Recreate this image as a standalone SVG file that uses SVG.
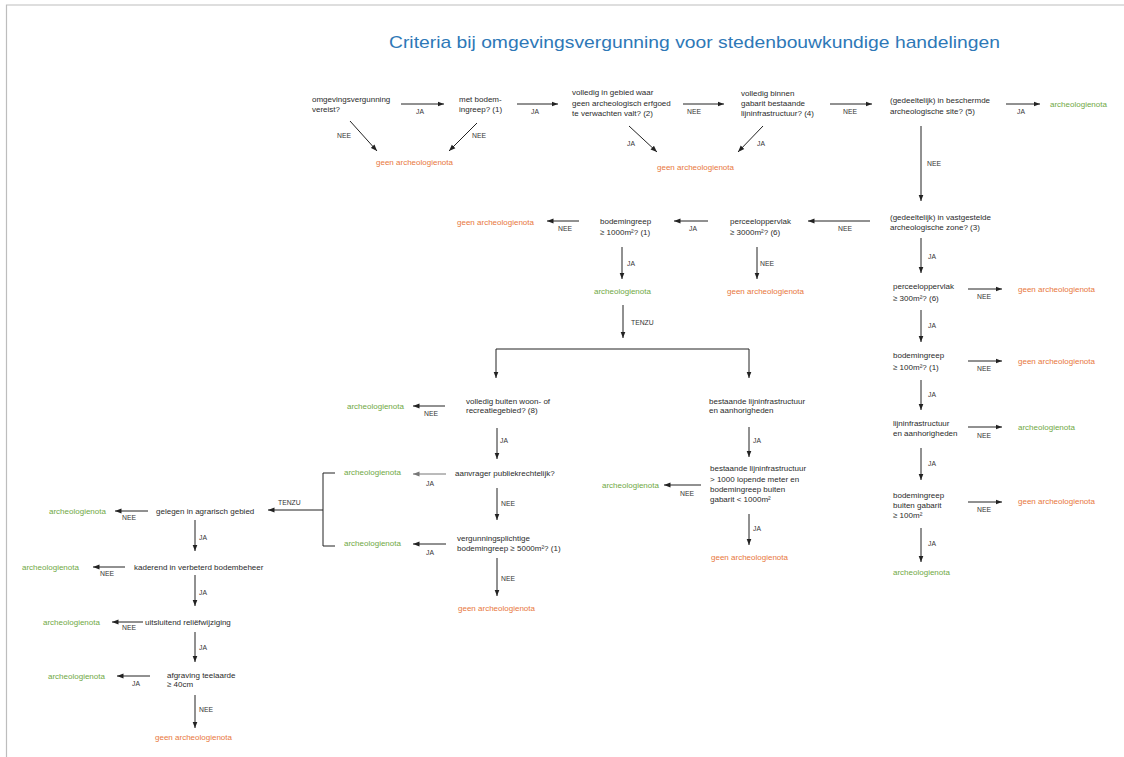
<svg xmlns="http://www.w3.org/2000/svg" width="1124" height="757" viewBox="0 0 1124 757">
<defs>
<marker id="ah" markerWidth="7" markerHeight="6" refX="6.5" refY="3" orient="auto" markerUnits="userSpaceOnUse"><path d="M0,0.5 L6.5,3 L0,5.5 z" fill="#222"/></marker>
<marker id="ahg" markerWidth="7" markerHeight="6" refX="6.5" refY="3" orient="auto" markerUnits="userSpaceOnUse"><path d="M0,0.5 L6.5,3 L0,5.5 z" fill="#777"/></marker>
</defs>
<style>
text{font-family:"Liberation Sans",Arial,sans-serif;}
.t{font-size:8px;fill:#2b2b2b;}
.l{font-size:6.8px;fill:#333;}
.g{font-size:8px;fill:#e8773c;}
.a{font-size:8px;fill:#6fa844;}
.title{font-size:17px;fill:#2e78b7;}
.c{stroke:#222;stroke-width:1;fill:none;}
.cg{stroke:#777;stroke-width:1;fill:none;}
.f{stroke:#bdbdbd;stroke-width:1.2;fill:none;}
</style>
<rect width="1124" height="757" fill="#fff"/>
<path class="f" d="M6.5,757 V5 H1124"/>
<text class="title" x="389" y="48" textLength="611" lengthAdjust="spacingAndGlyphs">Criteria bij omgevingsvergunning voor stedenbouwkundige handelingen</text>

<g id="connectors">
<line class="c" x1="401" y1="104" x2="444" y2="104" marker-end="url(#ah)"/>
<line class="c" x1="517" y1="104" x2="558" y2="104" marker-end="url(#ah)"/>
<line class="c" x1="683" y1="104" x2="724" y2="104" marker-end="url(#ah)"/>
<line class="c" x1="830" y1="104" x2="872" y2="104" marker-end="url(#ah)"/>
<line class="c" x1="1006" y1="104" x2="1040" y2="104" marker-end="url(#ah)"/>
<line class="c" x1="350" y1="121" x2="377" y2="151" marker-end="url(#ah)"/>
<line class="c" x1="477" y1="123" x2="449" y2="151" marker-end="url(#ah)"/>
<line class="c" x1="629" y1="126" x2="657" y2="152" marker-end="url(#ah)"/>
<line class="c" x1="763" y1="126" x2="738" y2="152" marker-end="url(#ah)"/>
<line class="c" x1="921" y1="126" x2="921" y2="201" marker-end="url(#ah)"/>
<line class="c" x1="870" y1="221" x2="808" y2="221" marker-end="url(#ah)"/>
<line class="c" x1="708" y1="221" x2="674" y2="221" marker-end="url(#ah)"/>
<line class="c" x1="579" y1="221" x2="547" y2="221" marker-end="url(#ah)"/>
<line class="c" x1="622" y1="247" x2="622" y2="279" marker-end="url(#ah)"/>
<line class="c" x1="757" y1="247" x2="757" y2="279" marker-end="url(#ah)"/>
<line class="c" x1="623" y1="305" x2="623" y2="338" marker-end="url(#ah)"/>
<path class="c" d="M496,349 H749"/>
<line class="c" x1="496" y1="349" x2="496" y2="378" marker-end="url(#ah)"/>
<line class="c" x1="749" y1="349" x2="749" y2="378" marker-end="url(#ah)"/>
<line class="c" x1="445" y1="406" x2="413" y2="406" marker-end="url(#ah)"/>
<line class="c" x1="497" y1="428" x2="497" y2="459" marker-end="url(#ah)"/>
<line class="cg" x1="446" y1="474" x2="413" y2="474" marker-end="url(#ahg)"/>
<line class="c" x1="497" y1="488" x2="497" y2="520" marker-end="url(#ah)"/>
<line class="c" x1="446" y1="544" x2="413" y2="544" marker-end="url(#ah)"/>
<line class="c" x1="497" y1="558" x2="497" y2="596" marker-end="url(#ah)"/>
<line class="c" x1="749" y1="427" x2="749" y2="457" marker-end="url(#ah)"/>
<line class="c" x1="701" y1="485" x2="664" y2="485" marker-end="url(#ah)"/>
<line class="c" x1="749" y1="514" x2="749" y2="545" marker-end="url(#ah)"/>
<line class="c" x1="921" y1="238" x2="921" y2="273" marker-end="url(#ah)"/>
<line class="c" x1="968" y1="289" x2="1002" y2="289" marker-end="url(#ah)"/>
<line class="c" x1="921" y1="310" x2="921" y2="342" marker-end="url(#ah)"/>
<line class="c" x1="968" y1="361" x2="1002" y2="361" marker-end="url(#ah)"/>
<line class="c" x1="921" y1="380" x2="921" y2="410" marker-end="url(#ah)"/>
<line class="c" x1="968" y1="427" x2="1002" y2="427" marker-end="url(#ah)"/>
<line class="c" x1="921" y1="448" x2="921" y2="480" marker-end="url(#ah)"/>
<line class="c" x1="968" y1="502" x2="1002" y2="502" marker-end="url(#ah)"/>
<line class="c" x1="921" y1="528" x2="921" y2="562" marker-end="url(#ah)"/>
<path class="c" d="M335,473 H323 V546 H335"/>
<line class="c" x1="323" y1="510" x2="268" y2="510" marker-end="url(#ah)"/>
<line class="c" x1="148" y1="511" x2="115" y2="511" marker-end="url(#ah)"/>
<line class="c" x1="195" y1="520" x2="195" y2="551" marker-end="url(#ah)"/>
<line class="c" x1="125" y1="567" x2="93" y2="567" marker-end="url(#ah)"/>
<line class="c" x1="195" y1="575" x2="195" y2="606" marker-end="url(#ah)"/>
<line class="c" x1="143" y1="622" x2="112" y2="622" marker-end="url(#ah)"/>
<line class="c" x1="195" y1="632" x2="195" y2="662" marker-end="url(#ah)"/>
<line class="c" x1="150" y1="676" x2="117" y2="676" marker-end="url(#ah)"/>
<line class="c" x1="195" y1="695" x2="195" y2="728" marker-end="url(#ah)"/>
<g id="labels">
<text class="l" x="416" y="113.5">JA</text>
<text class="l" x="531" y="113.5">JA</text>
<text class="l" x="687" y="113.5">NEE</text>
<text class="l" x="843" y="113.5">NEE</text>
<text class="l" x="1017" y="114">JA</text>
<text class="l" x="337" y="138">NEE</text>
<text class="l" x="472" y="138">NEE</text>
<text class="l" x="627" y="145.5">JA</text>
<text class="l" x="757" y="145.5">JA</text>
<text class="l" x="927" y="166">NEE</text>
<text class="l" x="838" y="231">NEE</text>
<text class="l" x="689" y="231">JA</text>
<text class="l" x="558" y="231">NEE</text>
<text class="l" x="627" y="266">JA</text>
<text class="l" x="760" y="266">NEE</text>
<text class="l" x="631" y="325">TENZU</text>
<text class="l" x="424" y="416">NEE</text>
<text class="l" x="500" y="443">JA</text>
<text class="l" x="426" y="486">JA</text>
<text class="l" x="501" y="506">NEE</text>
<text class="l" x="426" y="554.5">JA</text>
<text class="l" x="501" y="581">NEE</text>
<text class="l" x="753" y="443">JA</text>
<text class="l" x="680" y="495.5">NEE</text>
<text class="l" x="753" y="531">JA</text>
<text class="l" x="928" y="258.5">JA</text>
<text class="l" x="977" y="299">NEE</text>
<text class="l" x="928" y="328">JA</text>
<text class="l" x="977" y="371">NEE</text>
<text class="l" x="928" y="397">JA</text>
<text class="l" x="977" y="438">NEE</text>
<text class="l" x="928" y="465.5">JA</text>
<text class="l" x="977" y="512">NEE</text>
<text class="l" x="928" y="546">JA</text>
<text class="l" x="278" y="504.5">TENZU</text>
<text class="l" x="122" y="519.5">NEE</text>
<text class="l" x="199" y="539.5">JA</text>
<text class="l" x="100" y="576">NEE</text>
<text class="l" x="199" y="594.5">JA</text>
<text class="l" x="122" y="630">NEE</text>
<text class="l" x="199" y="649.5">JA</text>
<text class="l" x="132" y="685.5">JA</text>
<text class="l" x="199" y="712">NEE</text>
</g>
</g>

<g id="n1"><text class="t" x="312" y="102">omgevingsvergunning</text><text class="t" x="312" y="112">vereist?</text></g>
<g id="n2"><text class="t" x="459" y="102">met bodem-</text><text class="t" x="459" y="112">ingreep? (1)</text></g>
<g id="n3"><text class="t" x="572" y="95">volledig in gebied waar</text><text class="t" x="572" y="105.5">geen archeologisch erfgoed</text><text class="t" x="572" y="116">te verwachten valt? (2)</text></g>
<g id="n4"><text class="t" x="741" y="95.5">volledig binnen</text><text class="t" x="741" y="105.5">gabarit bestaande</text><text class="t" x="741" y="115.5">lijninfrastructuur? (4)</text></g>
<g id="n5"><text class="t" x="890" y="103">(gedeeltelijk) in beschermde</text><text class="t" x="890" y="114">archeologische site? (5)</text></g>
<g id="r1"><text class="a" x="1050" y="107">archeologienota</text></g>
<g id="r2"><text class="g" x="376" y="164.5">geen archeologienota</text></g>
<g id="r3"><text class="g" x="657" y="170">geen archeologienota</text></g>
<g id="n6"><text class="t" x="890" y="219.5">(gedeeltelijk) in vastgestelde</text><text class="t" x="890" y="229.5">archeologische zone? (3)</text></g>
<g id="n7"><text class="t" x="730" y="223.5">perceeloppervlak</text><text class="t" x="730" y="235">≥ 3000m²? (6)</text></g>
<g id="n8"><text class="t" x="600" y="223.5">bodemingreep</text><text class="t" x="600" y="235">≥ 1000m²? (1)</text></g>
<g id="r4"><text class="g" x="457" y="224.5">geen archeologienota</text></g>
<g id="r5"><text class="a" x="594" y="293.5">archeologienota</text></g>
<g id="r6"><text class="g" x="727" y="293.5">geen archeologienota</text></g>
<g id="n9"><text class="t" x="466" y="403.5">volledig buiten woon- of</text><text class="t" x="466" y="413">recreatiegebied? (8)</text></g>
<g id="r7"><text class="a" x="347" y="409">archeologienota</text></g>
<g id="n10"><text class="t" x="709" y="403.5">bestaande lijninfrastructuur</text><text class="t" x="709" y="413">en aanhorigheden</text></g>
<g id="n11"><text class="t" x="455" y="476">aanvrager publiekrechtelijk?</text></g>
<g id="r8"><text class="a" x="344" y="475">archeologienota</text></g>
<g id="n12"><text class="t" x="457" y="541">vergunningsplichtige</text><text class="t" x="457" y="551">bodemingreep ≥ 5000m²? (1)</text></g>
<g id="r9"><text class="a" x="344" y="545.5">archeologienota</text></g>
<g id="r10"><text class="g" x="458" y="611">geen archeologienota</text></g>
<g id="n13"><text class="t" x="710" y="471">bestaande lijninfrastructuur</text><text class="t" x="710" y="481.5">&gt; 1000 lopende meter en</text><text class="t" x="710" y="492">bodemingreep buiten</text><text class="t" x="710" y="502">gabarit &lt; 1000m²</text></g>
<g id="r11"><text class="a" x="602" y="488">archeologienota</text></g>
<g id="r12"><text class="g" x="711" y="559.5">geen archeologienota</text></g>
<g id="n14"><text class="t" x="893" y="289">perceeloppervlak</text><text class="t" x="893" y="301">≥ 300m²? (6)</text></g>
<g id="r13"><text class="g" x="1018" y="292">geen archeologienota</text></g>
<g id="n15"><text class="t" x="893" y="358">bodemingreep</text><text class="t" x="893" y="369.5">≥ 100m²? (1)</text></g>
<g id="r14"><text class="g" x="1018" y="363.5">geen archeologienota</text></g>
<g id="n16"><text class="t" x="893" y="426">lijninfrastructuur</text><text class="t" x="893" y="436">en aanhorigheden</text></g>
<g id="r15"><text class="a" x="1018" y="429.5">archeologienota</text></g>
<g id="n17"><text class="t" x="893" y="498">bodemingreep</text><text class="t" x="893" y="508">buiten gabarit</text><text class="t" x="893" y="518">≥ 100m²</text></g>
<g id="r16"><text class="g" x="1018" y="503.5">geen archeologienota</text></g>
<g id="r17"><text class="a" x="893" y="575">archeologienota</text></g>
<g id="n18"><text class="t" x="156" y="513.5">gelegen in agrarisch gebied</text></g>
<g id="r18"><text class="a" x="49" y="513.5">archeologienota</text></g>
<g id="n19"><text class="t" x="134" y="570">kaderend in verbeterd bodembeheer</text></g>
<g id="r19"><text class="a" x="22" y="570">archeologienota</text></g>
<g id="n20"><text class="t" x="145" y="624.5">uitsluitend reliëfwijziging</text></g>
<g id="r20"><text class="a" x="43" y="624.5">archeologienota</text></g>
<g id="n21"><text class="t" x="167" y="678">afgraving teelaarde</text><text class="t" x="167" y="687">≥ 40cm</text></g>
<g id="r21"><text class="a" x="48" y="679">archeologienota</text></g>
<g id="r22"><text class="g" x="155" y="739.5">geen archeologienota</text></g>
</svg>
